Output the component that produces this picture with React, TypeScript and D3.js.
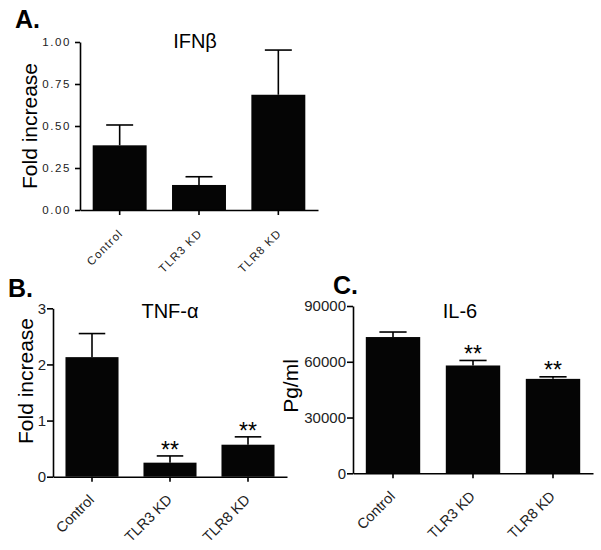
import React, { useRef, useEffect } from 'react';
import * as d3 from 'd3';

const categories = ['Control', 'TLR3 KD', 'TLR8 KD'];

// IFNβ (fold increase)
const ifnMeans = [0.385, 0.149, 0.686];
const ifnErrors = [0.121, 0.049, 0.266];
const ifnTicks = [0, 0.25, 0.5, 0.75, 1];
const ifnStars = ['', '', ''];

// TNF-α (fold increase)
const tnfMeans = [2.13, 0.25, 0.57];
const tnfErrors = [0.42, 0.12, 0.14];
const tnfTicks = [0, 1, 2, 3];
const tnfStars = ['', '**', '**'];

// IL-6 (pg/ml)
const il6Means = [73300, 58000, 50800];
const il6Errors = [2700, 2700, 1100];
const il6Ticks = [0, 30000, 60000, 90000];
const il6Stars = ['', '**', '**'];

const FONT = "'Liberation Sans', Arial, Helvetica, sans-serif";

interface PanelProps {
  x0: number;
  x1: number;
  y0: number;
  y1: number;
  yMax: number;
  means: number[];
  errors: number[];
  stars: string[];
  ticks: number[];
  format: (d: number) => string;
  tickFont: number;
  tickSpacing: number;
  tickLen: number;
  tickPad: number;
  catFont: number;
  catSpacing: number;
  catDx: number;
  catDy: number;
  title: string;
  titleX: number;
  titleY: number;
  letter: string;
  letterX: number;
  letterY: number;
  yLabel: string;
  yLabelX: number;
  yLabelY: number;
  starGap: number;
}

const Panel: React.FC<PanelProps> = (p) => {
  const ref = useRef<SVGGElement>(null);

  useEffect(() => {
    if (!ref.current) return;
    const g = d3.select(ref.current);
    g.selectAll('*').remove();

    const x = d3.scaleBand<string>()
      .domain(categories)
      .range([p.x0, p.x1])
      .paddingInner(0.32)
      .paddingOuter(0.16);
    const y = d3.scaleLinear().domain([0, p.yMax]).range([p.y0, p.y1]);
    const bw = x.bandwidth();
    const capW = bw / 2;

    // bars
    g.selectAll('.bar')
      .data(p.means)
      .enter()
      .append('rect')
      .attr('class', 'bar')
      .attr('x', (d, i) => x(categories[i])!)
      .attr('y', d => y(d))
      .attr('width', bw)
      .attr('height', d => y(0) - y(d))
      .attr('fill', '#050505');

    // error bars (upper only)
    p.means.forEach((m, i) => {
      const cx = x(categories[i])! + bw / 2;
      const top = y(m + p.errors[i]);
      g.append('line')
        .attr('x1', cx).attr('x2', cx)
        .attr('y1', y(m)).attr('y2', top)
        .attr('stroke', '#000').attr('stroke-width', 1.6);
      g.append('line')
        .attr('x1', cx - capW / 2).attr('x2', cx + capW / 2)
        .attr('y1', top).attr('y2', top)
        .attr('stroke', '#000').attr('stroke-width', 1.6);
      if (p.stars[i]) {
        g.append('text')
          .attr('x', cx)
          .attr('y', top + p.starGap)
          .attr('text-anchor', 'middle')
          .attr('fill', '#000')
          .style('font-family', FONT)
          .style('font-size', '23px')
          .text(p.stars[i]);
      }
    });

    // y axis
    const yAxis = d3.axisLeft(y)
      .tickValues(p.ticks)
      .tickFormat(d => p.format(d as number))
      .tickSize(p.tickLen)
      .tickSizeOuter(0)
      .tickPadding(p.tickPad);
    const ya = g.append('g')
      .attr('transform', `translate(${p.x0},0)`)
      .call(yAxis);
    ya.select('.domain').attr('stroke', '#000').attr('stroke-width', 1.6);
    ya.selectAll('.tick line').attr('stroke', '#000').attr('stroke-width', 1.6);
    ya.selectAll('.tick text')
      .attr('fill', '#222')
      .style('font-family', FONT)
      .style('font-size', `${p.tickFont}px`)
      .style('letter-spacing', `${p.tickSpacing}px`);

    // x axis
    const xAxis = d3.axisBottom(x)
      .tickSize(5)
      .tickSizeOuter(0)
      .tickFormat(() => '');
    const xa = g.append('g')
      .attr('transform', `translate(0,${p.y0})`)
      .call(xAxis);
    xa.select('.domain').attr('stroke', '#000').attr('stroke-width', 1.6);
    xa.selectAll('.tick line').attr('stroke', '#000').attr('stroke-width', 1.6);

    // category labels, rotated
    categories.forEach(c => {
      const tx = x(c)! + bw / 2 + p.catDx;
      const ty = p.y0 + p.catDy;
      g.append('text')
        .attr('transform', `translate(${tx},${ty}) rotate(-45)`)
        .attr('text-anchor', 'end')
        .attr('fill', '#222')
        .style('font-family', FONT)
        .style('font-size', `${p.catFont}px`)
        .style('letter-spacing', `${p.catSpacing}px`)
        .text(c);
    });

    // title
    g.append('text')
      .attr('x', p.titleX).attr('y', p.titleY)
      .attr('text-anchor', 'middle')
      .attr('fill', '#000')
      .style('font-family', FONT)
      .style('font-size', '20px')
      .text(p.title);

    // panel letter
    g.append('text')
      .attr('x', p.letterX).attr('y', p.letterY)
      .attr('fill', '#000')
      .style('font-family', FONT)
      .style('font-size', '25px')
      .style('font-weight', 'bold')
      .text(p.letter);

    // y label
    g.append('text')
      .attr('transform', `translate(${p.yLabelX},${p.yLabelY}) rotate(-90)`)
      .attr('text-anchor', 'middle')
      .attr('fill', '#000')
      .style('font-family', FONT)
      .style('font-size', '21px')
      .text(p.yLabel);
  }, [p]);

  return <g ref={ref} />;
};

const fmt2 = d3.format('.2f');
const fmtInt = d3.format('d');

export default function App() {
  return (
    <svg
      width={601}
      height={550}
      style={{ position: 'absolute', left: 0, top: 0, background: '#fff' }}
    >
      <Panel
        x0={80} x1={318} y0={210} y1={42} yMax={1}
        means={ifnMeans} errors={ifnErrors} stars={ifnStars}
        ticks={ifnTicks} format={fmt2}
        tickFont={11.5} tickSpacing={1.6} tickLen={5} tickPad={4}
        catFont={11.5} catSpacing={1.2} catDx={4} catDy={24}
        title="IFNβ" titleX={195} titleY={48}
        letter="A." letterX={15} letterY={28}
        yLabel="Fold increase" yLabelX={37} yLabelY={126}
        starGap={2}
      />
      <Panel
        x0={53} x1={287} y0={476.7} y1={308.3} yMax={3}
        means={tnfMeans} errors={tnfErrors} stars={tnfStars}
        ticks={tnfTicks} format={fmtInt}
        tickFont={15} tickSpacing={0} tickLen={6} tickPad={1}
        catFont={14.5} catSpacing={0} catDx={3} catDy={24}
        title="TNF-α" titleX={170} titleY={318}
        letter="B." letterX={8} letterY={297}
        yLabel="Fold increase" yLabelX={33} yLabelY={381}
        starGap={2}
      />
      <Panel
        x0={353} x1={593} y0={473.3} y1={306} yMax={90000}
        means={il6Means} errors={il6Errors} stars={il6Stars}
        ticks={il6Ticks} format={fmtInt}
        tickFont={15} tickSpacing={0} tickLen={6} tickPad={1}
        catFont={14.5} catSpacing={0} catDx={3} catDy={24}
        title="IL-6" titleX={460} titleY={318}
        letter="C." letterX={333} letterY={294}
        yLabel="Pg/ml" yLabelX={298} yLabelY={386}
        starGap={1.5}
      />
    </svg>
  );
}
